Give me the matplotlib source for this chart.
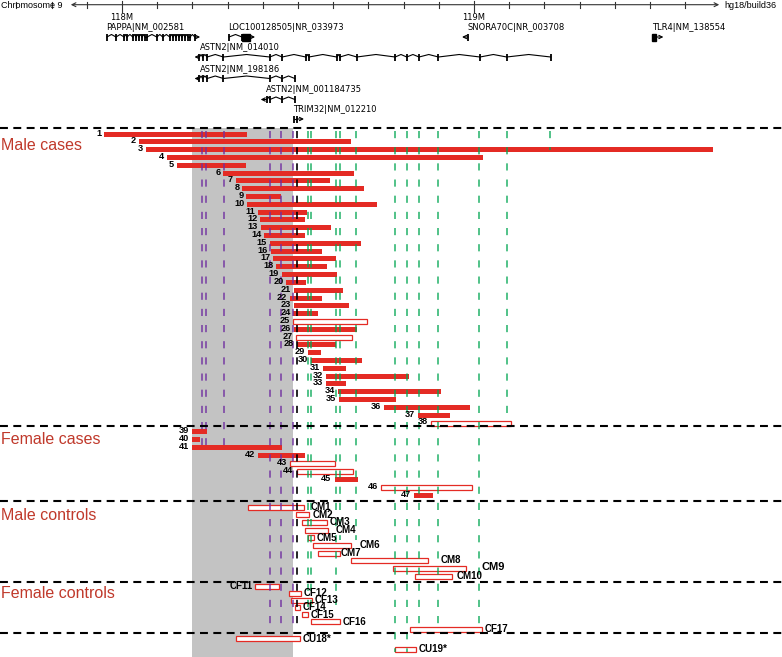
import numpy as np
import matplotlib.pyplot as plt
from matplotlib import font_manager
from matplotlib.patches import Rectangle

# chr9 positions in Mb (hg18)
# male cases 1-38
male_start = [117.950, 118.048, 118.068, 118.129, 118.155, 118.288, 118.323, 118.342, 118.353, 118.356,
              118.387, 118.393, 118.394, 118.404, 118.420, 118.423, 118.430, 118.438, 118.455, 118.467,
              118.489, 118.478, 118.489, 118.487, 118.485, 118.488, 118.493, 118.496, 118.528, 118.538,
              118.572, 118.579, 118.579, 118.613, 118.616, 118.745, 118.840, 118.877]
male_end = [118.354, 118.651, 119.680, 119.025, 118.352, 118.660, 118.590, 118.687, 118.452, 118.725,
            118.525, 118.519, 118.593, 118.521, 118.679, 118.567, 118.608, 118.582, 118.610, 118.523,
            118.627, 118.568, 118.646, 118.556, 118.697, 118.668, 118.653, 118.607, 118.565, 118.681,
            118.636, 118.814, 118.636, 118.905, 118.778, 118.989, 118.932, 119.105]
male_hollow = [25, 27, 38]

# female cases 39-47
female_start = [118.198, 118.198, 118.198, 118.386, 118.478, 118.496, 118.604, 118.736, 118.830]
female_end = [118.241, 118.222, 118.455, 118.520, 118.606, 118.657, 118.670, 118.993, 118.884]
female_hollow = [43, 44, 46]

# controls
cm_labels = ['CM1', 'CM2', 'CM3', 'CM4', 'CM5', 'CM6', 'CM7', 'CM8', 'CM9', 'CM10']
cm_start = [118.359, 118.495, 118.512, 118.519, 118.528, 118.543, 118.556, 118.650, 118.771, 118.832]
cm_end = [118.517, 118.532, 118.583, 118.585, 118.546, 118.651, 118.618, 118.870, 118.978, 118.938]

cf_labels = ['CF11', 'CF12', 'CF13', 'CF14', 'CF15', 'CF16', 'CF17']
cf_start = [118.377, 118.475, 118.480, 118.491, 118.512, 118.537, 118.818]
cf_end = [118.447, 118.509, 118.539, 118.505, 118.529, 118.620, 119.024]

cu_labels = ['CU18*', 'CU19*']
cu_start = [118.324, 118.776]
cu_end = [118.506, 118.835]

# exon marker lines (Mb) and their colour
purple_x = [118.226, 118.240, 118.290, 118.420, 118.451, 118.486]
black_x = [118.498]
green_x = [118.528, 118.536, 118.608, 118.619, 118.665, 118.776, 118.809, 118.844, 118.899,
           119.014, 119.094, 119.215]

# genes
pappa_exons = [117.957, 117.983, 118.006, 118.014, 118.031, 118.040, 118.048, 118.057, 118.065, 118.071,
               118.099, 118.116, 118.136, 118.145, 118.153, 118.162, 118.170, 118.179, 118.188, 118.193, 118.207]
astn2_a = [118.220, 118.229, 118.242, 118.288, 118.420, 118.455, 118.522, 118.531, 118.610, 118.619,
           118.667, 118.776, 118.809, 118.844, 118.899, 119.017, 119.093, 119.218]
astn2_b = [118.220, 118.229, 118.242, 118.288, 118.420, 118.455, 118.491]
astn2_c = [118.411, 118.420, 118.455, 118.491]

PX = 1 / 352.0          # one pixel in Mb
X0 = 118 - 122 * PX
X1 = X0 + 782 * PX
RED = '#e42b24'
TXT_RED = '#c0392b'

names = {f.name for f in font_manager.fontManager.ttflist}
NARROW = 'Liberation Sans Narrow' if 'Liberation Sans Narrow' in names else 'Liberation Sans'

fig = plt.figure(figsize=(7.82, 6.57), dpi=100)
ax = fig.add_axes([0, 0, 1, 1])
ax.set_xlim(X0, X1)
ax.set_ylim(657, 0)
ax.axis('off')

# grey shaded region
ax.add_patch(Rectangle((118.200, 128), 118.487 - 118.200, 529, color='#c3c3c3', lw=0, zorder=0))

# section separators
for y in [128, 426, 501, 582, 633]:
    ax.plot([X0, X1], [y, y], color='black', lw=1.5, ls=(0, (3.8, 2.6)), zorder=4)

# vertical marker lines
purple_end = [445, 445, 445, 632, 632, 632]
green_end = [612, 612, 605, 540, 540, 652, 652, 632, 632, 632, 420, 150]
for x, ye in zip(purple_x, purple_end):
    ax.plot([x, x], [131, ye], color='#7030a0', lw=1.2, ls=(0, (4.3, 5.4)), alpha=0.85, zorder=3)
for x in black_x:
    ax.plot([x, x], [131, 632], color='black', lw=1.2, ls=(0, (4.3, 5.4)), zorder=3)
for x, ye in zip(green_x, green_end):
    ax.plot([x, x], [131, ye], color='#00a651', lw=1.2, ls=(0, (4.3, 5.4)), alpha=0.8, zorder=3)


def bar(s, e, y, hollow):
    if hollow:
        ax.add_patch(Rectangle((s, y - 2.5), e - s, 5, facecolor='white', edgecolor=RED, lw=0.9, zorder=2))
    else:
        ax.add_patch(Rectangle((s, y - 2.5), e - s, 5, facecolor=RED, edgecolor='none', zorder=2))


num_font = dict(fontsize=6.6, fontweight='bold', family=NARROW, va='center', ha='right', zorder=5)
ctl_font = dict(fontsize=7, fontweight='bold', family=NARROW, va='center', zorder=5)

male_y = np.linspace(134, 423, len(male_start))
for i, (s, e, y) in enumerate(zip(male_start, male_end, male_y)):
    bar(s, e, y, (i + 1) in male_hollow)
    ax.text(s - 3 * PX, y - 1, str(i + 1), **num_font)

female_y = np.linspace(431.5, 495.5, len(female_start))
for i, (s, e, y) in enumerate(zip(female_start, female_end, female_y)):
    bar(s, e, y, (i + 39) in female_hollow)
    ax.text(s - 3 * PX, y - 1, str(i + 39), **num_font)

# label gaps (px) to the right of the control bars
cm_gap = [7, 3, 2, 8, 2, 8, 1.5, 12, 15, 4]
cm_y = np.linspace(507, 576, len(cm_start))
for lab, s, e, y, g in zip(cm_labels, cm_start, cm_end, cm_y, cm_gap):
    bar(s, e, y, True)
    fs = 8 if lab == 'CM9' else 7
    ax.text(e + g * PX, y - (1 if g > 10 else 0), lab, ha='left', **dict(ctl_font, fontsize=fs))

cf_y = np.linspace(586, 629, len(cf_start))
for lab, s, e, y in zip(cf_labels, cf_start, cf_end, cf_y):
    bar(s, e, y, True)
    if lab == 'CF11':
        ax.text(s - 2 * PX, y, lab, ha='right', **ctl_font)
    else:
        ax.text(e + 2.5 * PX, y, lab, ha='left', **ctl_font)

cu_y = [638.5, 649.5]
for lab, s, e, y in zip(cu_labels, cu_start, cu_end, cu_y):
    bar(s, e, y, True)
    ax.text(e + 2.5 * PX, y, lab, ha='left', **ctl_font)

# section titles
for lab, y in [('Male cases', 145), ('Female cases', 440), ('Male controls', 515), ('Female controls', 593)]:
    ax.text(X0 + 1 * PX, y, lab, color=TXT_RED, fontsize=11.5, family='Liberation Sans', va='center', ha='left')

# chromosome ruler
ax.annotate('', xy=(X0 + 68 * PX, 4.7), xytext=(X0 + 722 * PX, 4.7),
            arrowprops=dict(arrowstyle='<->', lw=0.8, color='#333333', mutation_scale=7))
for t in np.arange(117.7, 119.65, 0.1):
    big = abs(t - round(t)) < 1e-6
    ax.plot([t, t], [0.5 if big else 2, 12 if big else 7.5], color='#333333', lw=0.8)
ax.text(118.0, 12.5, '118M', fontsize=6, ha='center', va='top', family='DejaVu Sans')
ax.text(119.0, 12.5, '119M', fontsize=6, ha='center', va='top', family='DejaVu Sans')
ax.text(X0 + 1 * PX, 5, 'Chromosome 9', fontsize=6.5, va='center', family='Liberation Sans')
ax.text(X0 + 724 * PX, 5, 'hg18/build36', fontsize=6.5, va='center', family='Liberation Sans')

gk = dict(color='black', lw=0.8)


def gene(exons, y, tip, tick=3.5):
    for a, b in zip(exons[:-1], exons[1:]):
        if b - a > 2.5 * PX:
            ax.plot([a, (a + b) / 2, b], [y, y - 2.5, y], **gk)
        else:
            ax.plot([a, b], [y, y], **gk)
    ax.vlines(exons, y - tick, y + tick, color='black', lw=1.3)
    base = exons[-1] if tip > exons[-1] else exons[0]
    ax.annotate('', xy=(tip, y), xytext=(base, y),
                arrowprops=dict(arrowstyle='->', lw=0.8, mutation_scale=6, shrinkA=0, shrinkB=0))


gfont = dict(fontsize=6, family='DejaVu Sans', va='center', ha='left')
gene(pappa_exons, 37, 118.222)
ax.text(X0 + 106 * PX, 27, 'PAPPA|NM_002581', **gfont)

gene([118.304, 118.341], 37, 118.378)
ax.add_patch(Rectangle((118.341, 33.5), 0.023, 7, color='black'))
ax.text(X0 + 228 * PX, 27, 'LOC100128505|NR_033973', **gfont)

gene(astn2_a, 57, 118.206)
ax.text(X0 + 200 * PX, 48, 'ASTN2|NM_014010', **gfont)
gene(astn2_b, 78.5, 118.206)
ax.text(X0 + 200 * PX, 70, 'ASTN2|NM_198186', **gfont)
gene(astn2_c, 99.5, 118.394)
ax.text(X0 + 266 * PX, 90, 'ASTN2|NM_001184735', **gfont)
gene([118.489, 118.496], 119, 118.517)
ax.text(X0 + 293 * PX, 110, 'TRIM32|NM_012210', **gfont)

gene([118.984], 37, 118.966)
ax.text(X0 + 467 * PX, 27, 'SNORA70C|NR_003708', **gfont)
ax.add_patch(Rectangle((119.506, 33.5), 0.011, 7, color='black'))
gene([119.517], 37, 119.538, tick=0)
ax.text(X0 + 652 * PX, 27, 'TLR4|NM_138554', **gfont)

fig.savefig('out.png', dpi=100)
